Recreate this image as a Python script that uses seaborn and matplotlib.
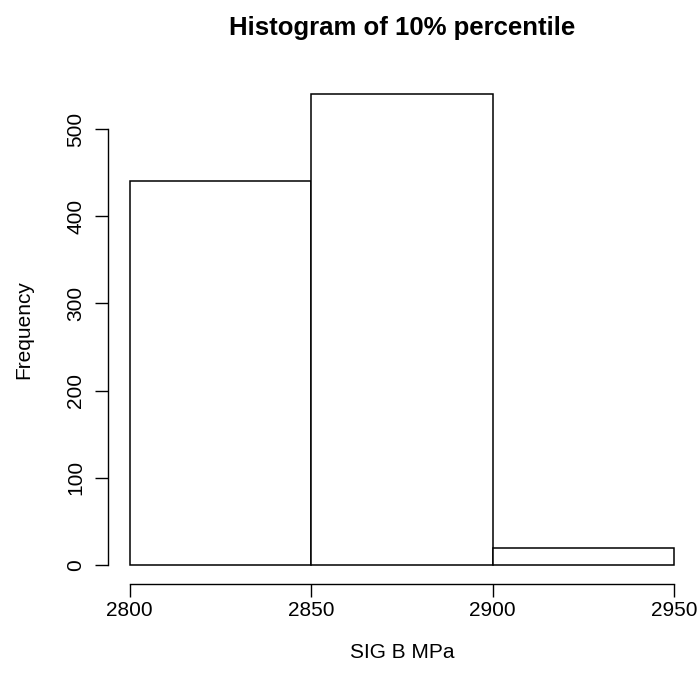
import matplotlib
matplotlib.use("Agg")
import matplotlib.pyplot as plt
import seaborn as sns
import numpy as np

# ========================================
# Data
# ========================================
bin_edges = [2800, 2850, 2900, 2950]
bin_counts = [440, 540, 20]
x_ticks = [2800, 2850, 2900, 2950]
y_ticks = [0, 100, 200, 300, 400, 500]

bin_centers = [(a + b) / 2 for a, b in zip(bin_edges[:-1], bin_edges[1:])]

# ========================================
# Plot
# ========================================
sns.set_style("white")
plt.rcParams['font.family'] = ['Liberation Sans', 'DejaVu Sans']
plt.rcParams['text.color'] = 'black'
plt.rcParams['axes.labelcolor'] = 'black'
plt.rcParams['xtick.color'] = 'black'
plt.rcParams['ytick.color'] = 'black'

fig = plt.figure(figsize=(7.0, 6.87), dpi=100)
ax = fig.add_axes([0.1543, 0.15, 0.84, 0.7404])

sns.histplot(x=bin_centers, weights=bin_counts, bins=bin_edges,
             color='white', edgecolor='black', linewidth=1.1, alpha=1, ax=ax)

# R-style 4% padding of the axis ranges
ax.set_xlim(2794, 2956)
ax.set_ylim(-21.6, 561.6)

ax.set_xticks(x_ticks)
ax.set_yticks(y_ticks)
ax.set_yticklabels([str(v) for v in y_ticks], rotation=90, va='center')

for side in ['top', 'right']:
    ax.spines[side].set_visible(False)
ax.spines['left'].set_bounds(0, 500)
ax.spines['bottom'].set_bounds(2800, 2950)
for side in ['left', 'bottom']:
    ax.spines[side].set_color('black')
    ax.spines[side].set_linewidth(1.0)

ax.tick_params(axis='both', direction='out', length=9.5, width=1.0,
               color='black', labelcolor='black', labelsize=15, left=True, bottom=True)
ax.tick_params(axis='x', pad=3)
ax.tick_params(axis='y', pad=7)

ax.set_xlabel('SIG B MPa', fontsize=15, labelpad=16)
ax.set_ylabel('Frequency', fontsize=15, labelpad=24)
ax.set_title('Histogram of 10% percentile', fontsize=18.5, fontweight='bold', pad=29)

plt.savefig('out.png', dpi=100)
